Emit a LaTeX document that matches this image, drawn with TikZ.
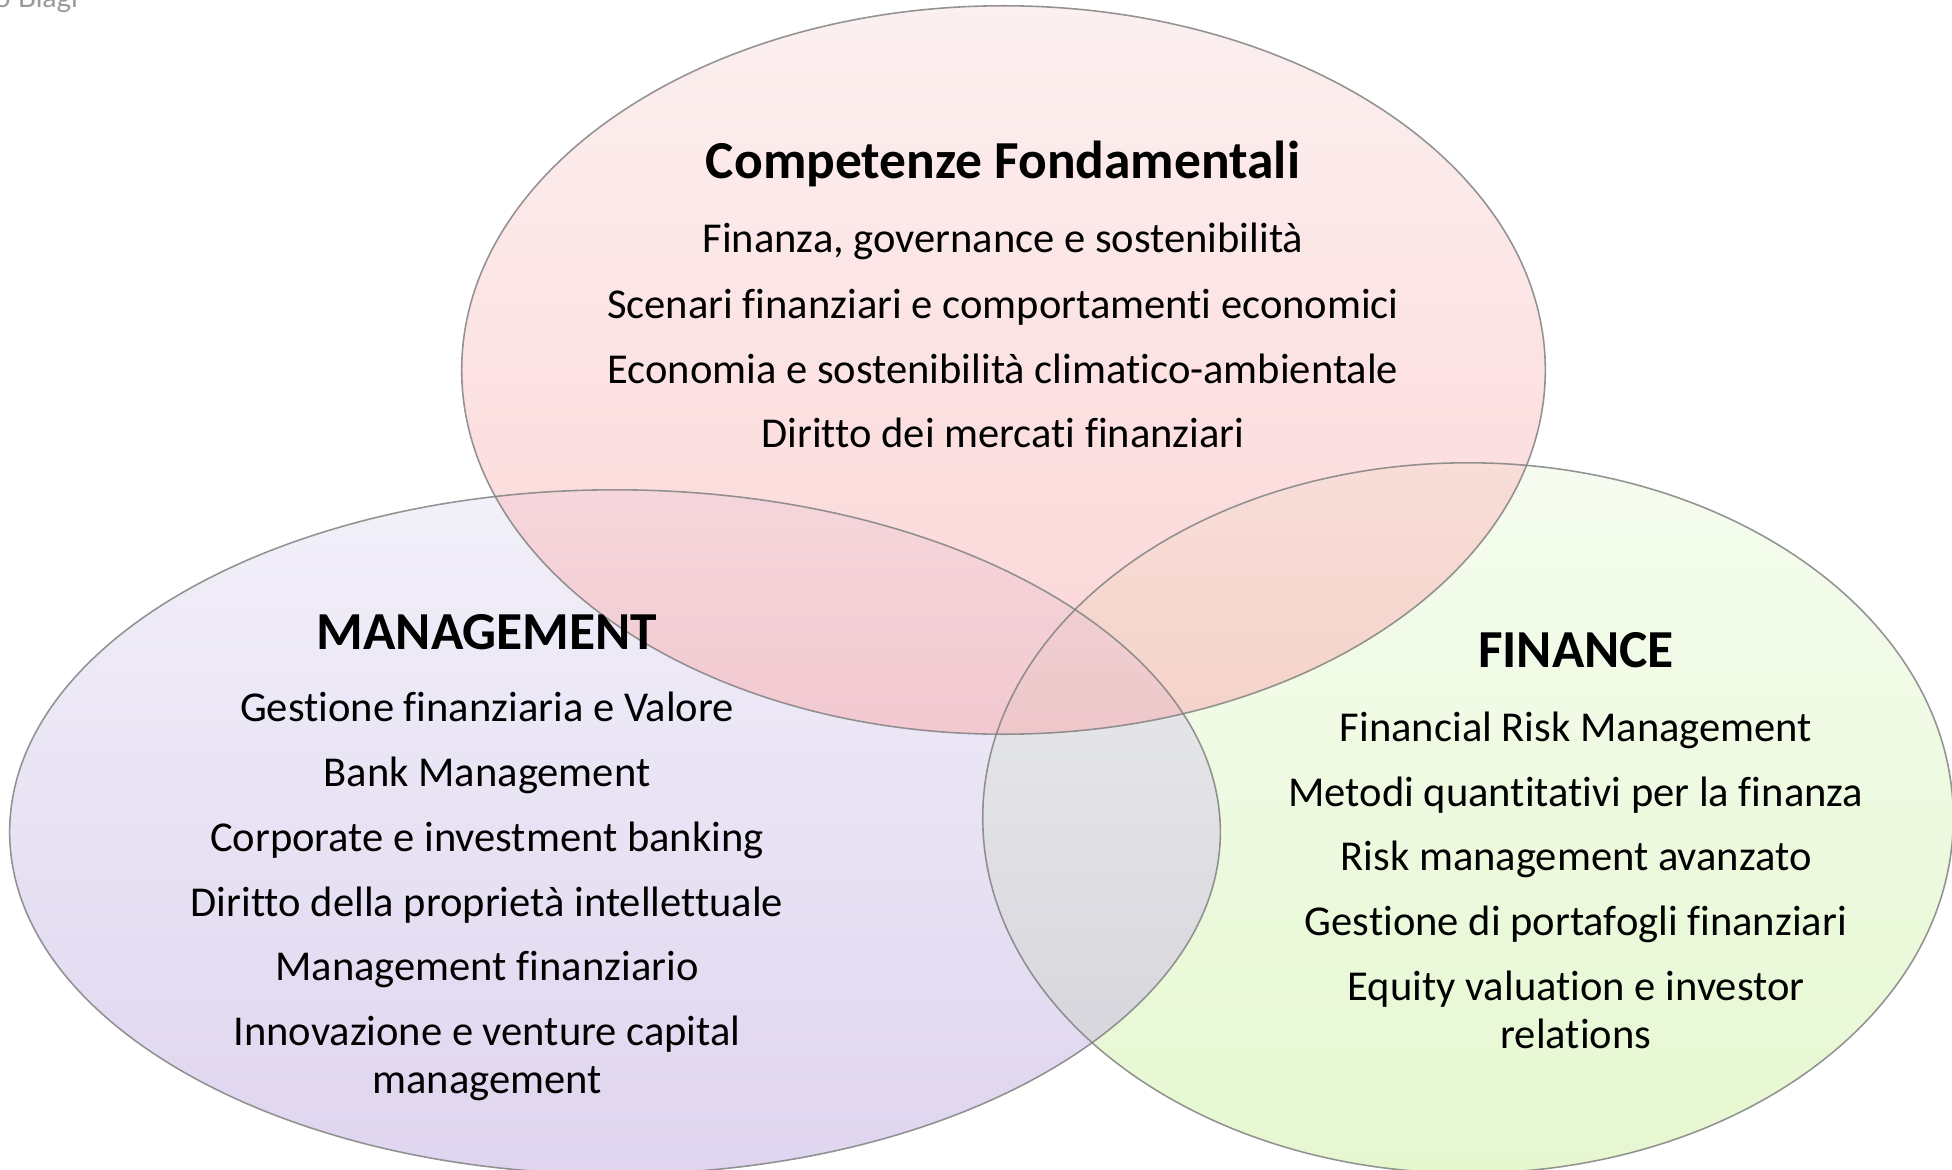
\documentclass[tikz,border=0pt]{standalone}
\usepackage{fontspec}
\setmainfont{Carlito}[Ligatures=NoCommon]
\newfontfamily\creditfont{Lato}
\definecolor{pinkT}{RGB}{251,226,226}
\definecolor{pinkB}{RGB}{249,172,174}
\definecolor{lavT}{RGB}{230,226,244}
\definecolor{lavB}{RGB}{192,172,224}
\definecolor{grnT}{RGB}{238,251,226}
\definecolor{grnB}{RGB}{206,241,162}
\definecolor{edge}{RGB}{130,130,130}
\begin{document}
\begin{tikzpicture}[x=0.01cm,y=-0.01cm,
  blob/.style={fill opacity=0.5},
  rim/.style={draw=edge,line width=0.45pt,draw opacity=0.85},
  ttl/.style={anchor=base,font=\fontsize{15.2}{18}\selectfont\bfseries,inner sep=0pt},
  item/.style={anchor=base,font=\fontsize{12.1}{13.4}\selectfont,inner sep=0pt,align=center},
  credit/.style={anchor=base west,font=\creditfont\fontsize{8}{9}\selectfont,text=gray!80,inner sep=0pt}]
\useasboundingbox (0,0) rectangle (1952,1170);
\fill[white] (0,0) rectangle (1952,1170);
% ellipses
\shade[blob,top color=grnT,bottom color=grnB] (1468,818) ellipse [x radius=4.85cm,y radius=3.55cm];
\shade[blob,top color=lavT,bottom color=lavB] (615,832) ellipse [x radius=6.05cm,y radius=3.42cm];
\shade[blob,top color=pinkT,bottom color=pinkB] (1003.5,370) ellipse [x radius=5.415cm,y radius=3.64cm];
\draw[rim] (615,832) ellipse [x radius=6.05cm,y radius=3.42cm];
\draw[rim] (1468,818) ellipse [x radius=4.85cm,y radius=3.55cm];
\draw[rim] (1003.5,370) ellipse [x radius=5.415cm,y radius=3.64cm];
% credit
\node[credit] (cr) at (-6,8) {o Biagi};
% top
\node[ttl] (cf) at (1003,179) {Competenze Fondamentali};
\node[item] (c1) at (1003,252) {Finanza, governance e sostenibilità};
\node[item] (c2) at (1003,318) {Scenari finanziari e comportamenti economici};
\node[item] (c3) at (1003,383) {Economia e sostenibilità climatico-ambientale};
\node[item] (c4) at (1003,447) {Diritto dei mercati finanziari};
% management
\node[ttl] (mg) at (487,649) {MANAGEMENT};
\node[item] (m1) at (487,721) {Gestione finanziaria e Valore};
\node[item] (m2) at (487,786) {Bank Management};
\node[item] (m3) at (487,851) {Corporate e investment banking};
\node[item] (m4) at (487,916) {Diritto della proprietà intellettuale};
\node[item] (m5) at (487,980) {Management finanziario};
\node[item] (m6) at (487,1093) {Innovazione e venture capital\\management};
% finance
\node[ttl] (fn) at (1576,667) {FINANCE};
\node[item] (f1) at (1576,741) {Financial Risk Management};
\node[item] (f2) at (1576,806) {Metodi quantitativi per la finanza};
\node[item] (f3) at (1576,870) {Risk management avanzato};
\node[item] (f4) at (1576,935) {Gestione di portafogli finanziari};
\node[item] (f5) at (1576,1048) {Equity valuation e investor\\relations};
\end{tikzpicture}
\end{document}
